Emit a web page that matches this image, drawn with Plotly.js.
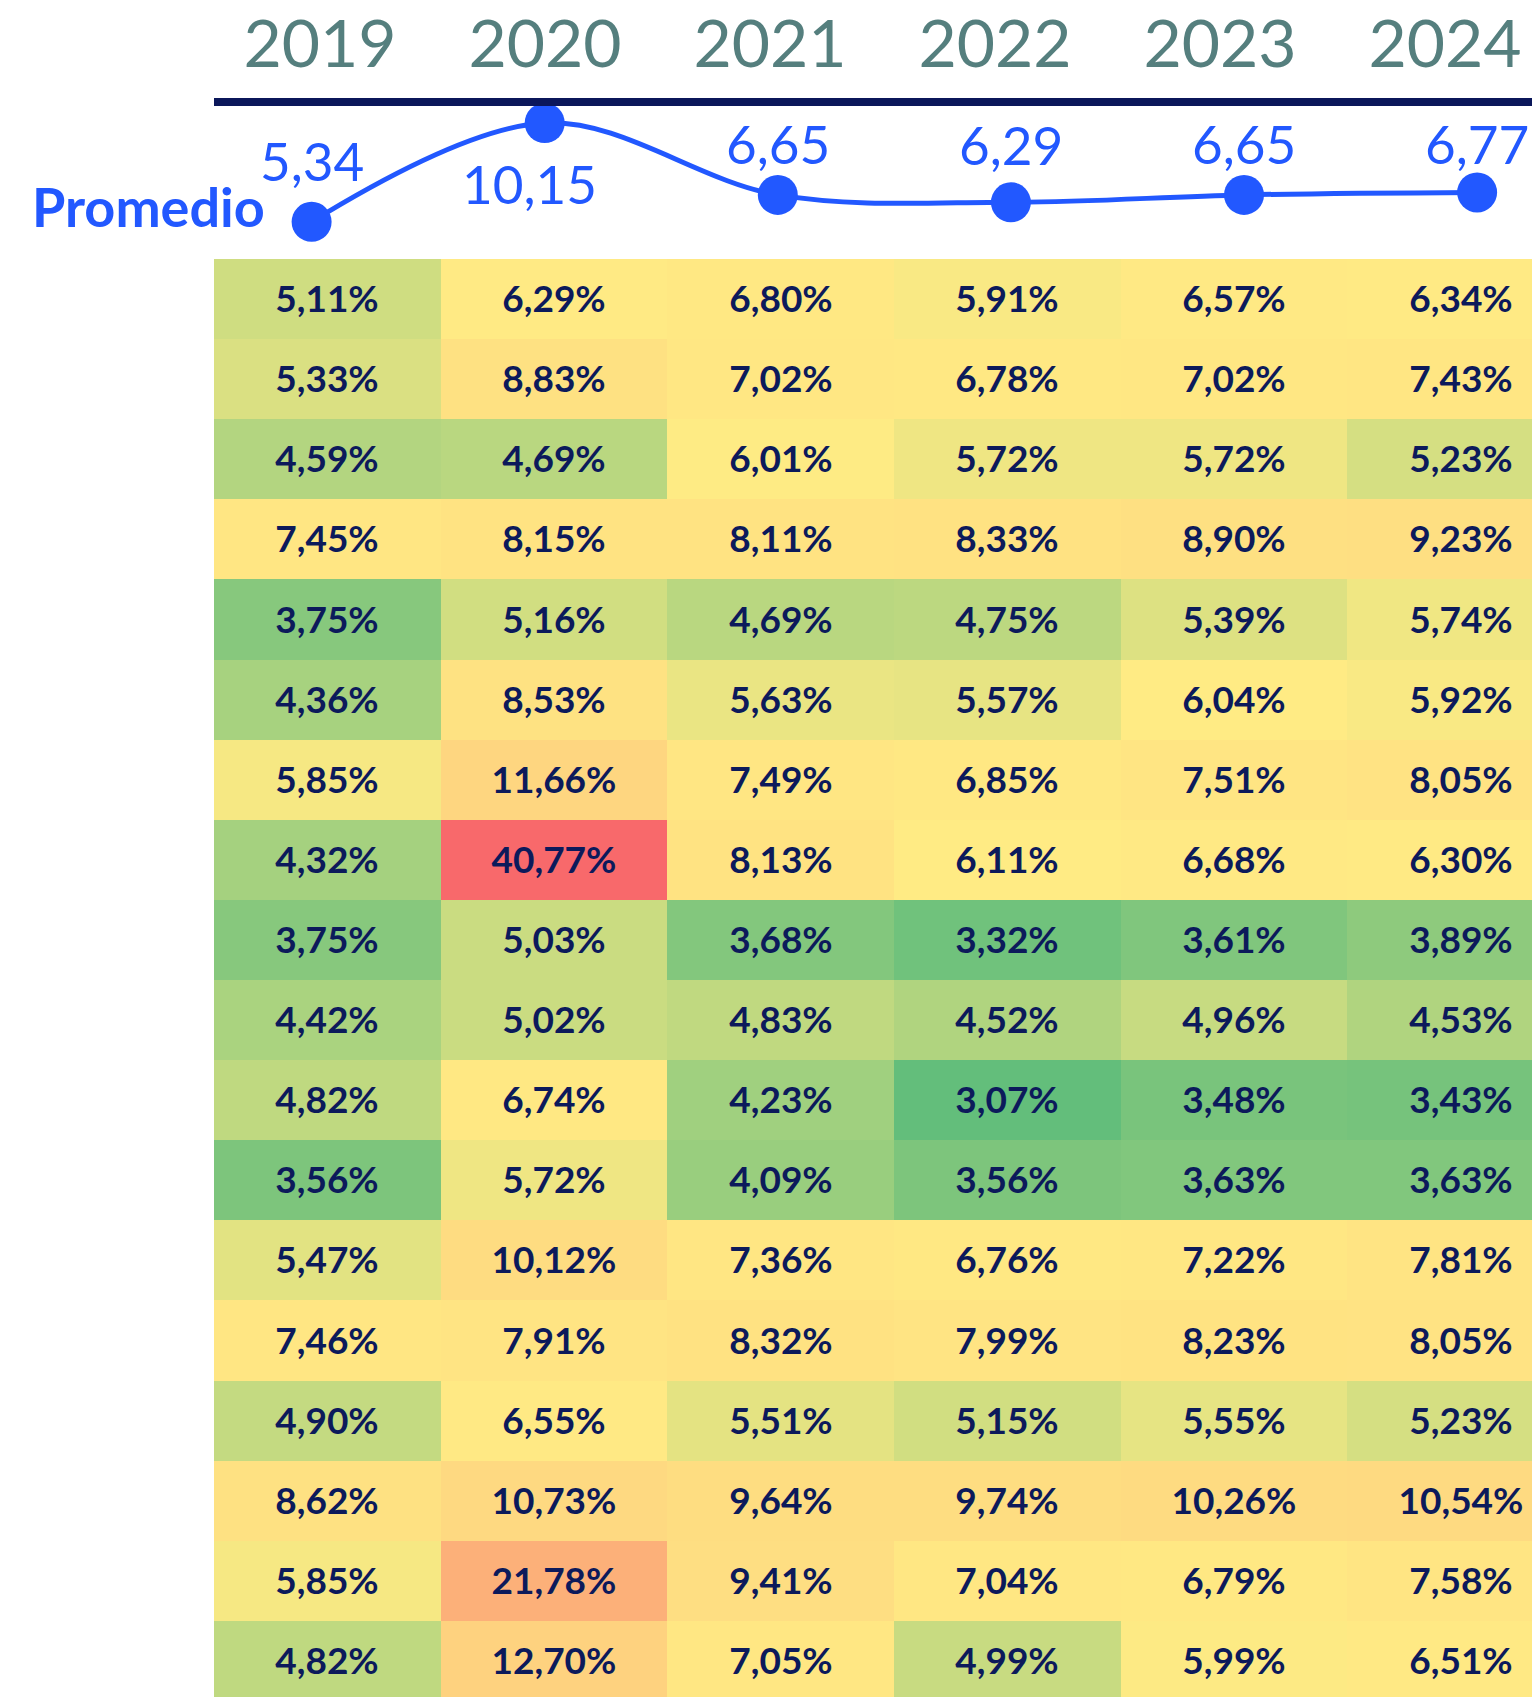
<!DOCTYPE html>
<html>
<head>
<meta charset="utf-8">
<script src="https://cdn.plot.ly/plotly-3.0.1.min.js"></script>
<style>
html,body{margin:0;padding:0;background:#ffffff;}
#chart{width:1532px;height:1697px;}
</style>
</head>
<body>
<div id="chart"></div>
<script>
// ---- data ----
const years = ['2019', '2020', '2021', '2022', '2023', '2024'];
const promedio = [5.34, 10.15, 6.65, 6.29, 6.65, 6.77];
// offsets (px) of each average label relative to its point (+y = up)
const labelShiftY = [61, -60, 51, 58, 51, 49];
const labelShiftX = [0, -15, 0, 0, 0, 0];

const rowIndex = [0, 1, 2, 3, 4, 5, 6, 7, 8, 9, 10, 11, 12, 13, 14, 15, 16, 17];
const v2019 = [5.11, 5.33, 4.59, 7.45, 3.75, 4.36, 5.85, 4.32, 3.75, 4.42, 4.82, 3.56, 5.47, 7.46, 4.90, 8.62, 5.85, 4.82];
const v2020 = [6.29, 8.83, 4.69, 8.15, 5.16, 8.53, 11.66, 40.77, 5.03, 5.02, 6.74, 5.72, 10.12, 7.91, 6.55, 10.73, 21.78, 12.70];
const v2021 = [6.80, 7.02, 6.01, 8.11, 4.69, 5.63, 7.49, 8.13, 3.68, 4.83, 4.23, 4.09, 7.36, 8.32, 5.51, 9.64, 9.41, 7.05];
const v2022 = [5.91, 6.78, 5.72, 8.33, 4.75, 5.57, 6.85, 6.11, 3.32, 4.52, 3.07, 3.56, 6.76, 7.99, 5.15, 9.74, 7.04, 4.99];
const v2023 = [6.57, 7.02, 5.72, 8.90, 5.39, 6.04, 7.51, 6.68, 3.61, 4.96, 3.48, 3.63, 7.22, 8.23, 5.55, 10.26, 6.79, 5.99];
const v2024 = [6.34, 7.43, 5.23, 9.23, 5.74, 5.92, 8.05, 6.30, 3.89, 4.53, 3.43, 3.63, 7.81, 8.05, 5.23, 10.54, 7.58, 6.51];

// ---- build heatmap matrix ----
const columns = [v2019, v2020, v2021, v2022, v2023, v2024];
const z = rowIndex.map(r => columns.map(c => c[r]));
const all = columns.flat().slice().sort((a, b) => a - b);
const zMin = all[0], zMax = all[all.length - 1];
const n = all.length;
const median = n % 2 ? all[(n - 1) / 2] : (all[n / 2 - 1] + all[n / 2]) / 2;
const tMid = (median - zMin) / (zMax - zMin);

const BLUE = '#2258ff';
const NAVY = '#0b175a';

const heat = {
  type: 'heatmap',
  x: years, y: rowIndex, z: z,
  xaxis: 'x', yaxis: 'y',
  zmin: zMin, zmax: zMax,
  colorscale: [[0, '#63BE7B'], [tMid, '#FFEB84'], [1, '#F8696B']],
  showscale: false,
  texttemplate: '%{z:.2f}%',
  textfont: {family: 'Lato', size: 37, color: '#0c1a5b', weight: 700},
  hoverinfo: 'skip'
};

const line = {
  type: 'scatter',
  x: years, y: promedio,
  xaxis: 'x2', yaxis: 'y2',
  mode: 'lines+markers',
  line: {shape: 'spline', smoothing: 1, width: 5, color: BLUE},
  marker: {size: 40, color: BLUE},
  cliponaxis: true,
  hoverinfo: 'skip'
};

const header = {
  type: 'scatter',
  x: years, y: promedio,
  xaxis: 'x3', yaxis: 'y3',
  mode: 'none',
  hoverinfo: 'skip'
};

const valueLabels = years.map((yr, i) => ({
  text: promedio[i].toFixed(2).replace('.', ','),
  xref: 'x2', yref: 'y2', x: i, y: promedio[i],
  xanchor: 'center', yanchor: 'middle',
  xshift: labelShiftX[i], yshift: labelShiftY[i],
  showarrow: false,
  font: {family: 'Lato', size: 53, color: BLUE}
}));

const hiddenAxis = {showline: false, showgrid: false, zeroline: false, showticklabels: false, ticks: '', fixedrange: true};

const layout = {
  width: 1532, height: 1697,
  margin: {l: 0, r: 0, t: 0, b: 0},
  paper_bgcolor: '#ffffff',
  plot_bgcolor: 'rgba(0,0,0,0)',
  separators: ',.',
  showlegend: false,
  font: {family: 'Lato'},
  xaxis: Object.assign({domain: [0.13969, 1], type: 'category', range: [-0.5, 5.314]}, hiddenAxis),
  yaxis: Object.assign({domain: [0, 0.84738], range: [17.45, -0.5]}, hiddenAxis),
  xaxis2: Object.assign({anchor: 'y2', domain: [0, 1], type: 'category', range: [-1.3368, 5.2355]}, hiddenAxis),
  yaxis2: Object.assign({anchor: 'x2', domain: [0.84738, 0.93754], range: [3.529, 10.978]}, hiddenAxis),
  xaxis3: {
    anchor: 'y3', domain: [0.13969, 1], type: 'category', range: [-0.4711, 5.3867],
    side: 'top', showline: true, linecolor: NAVY, linewidth: 8,
    ticks: '', showgrid: false, zeroline: false,
    tickfont: {family: 'Lato', size: 66, color: '#557f7e'},
    ticklabelstandoff: 5, fixedrange: true
  },
  yaxis3: Object.assign({anchor: 'x3', domain: [0.90, 0.93754], range: [0, 1]}, hiddenAxis),
  annotations: [{
    text: 'Promedio', xref: 'paper', yref: 'paper',
    x: 148 / 1532, y: 1 - 207 / 1697, xanchor: 'center', yanchor: 'middle',
    showarrow: false,
    font: {family: 'Lato', size: 54, color: BLUE, weight: 700}
  }].concat(valueLabels)
};

Plotly.newPlot('chart', [heat, line, header], layout, {displayModeBar: false, staticPlot: true});
</script>
</body>
</html>
